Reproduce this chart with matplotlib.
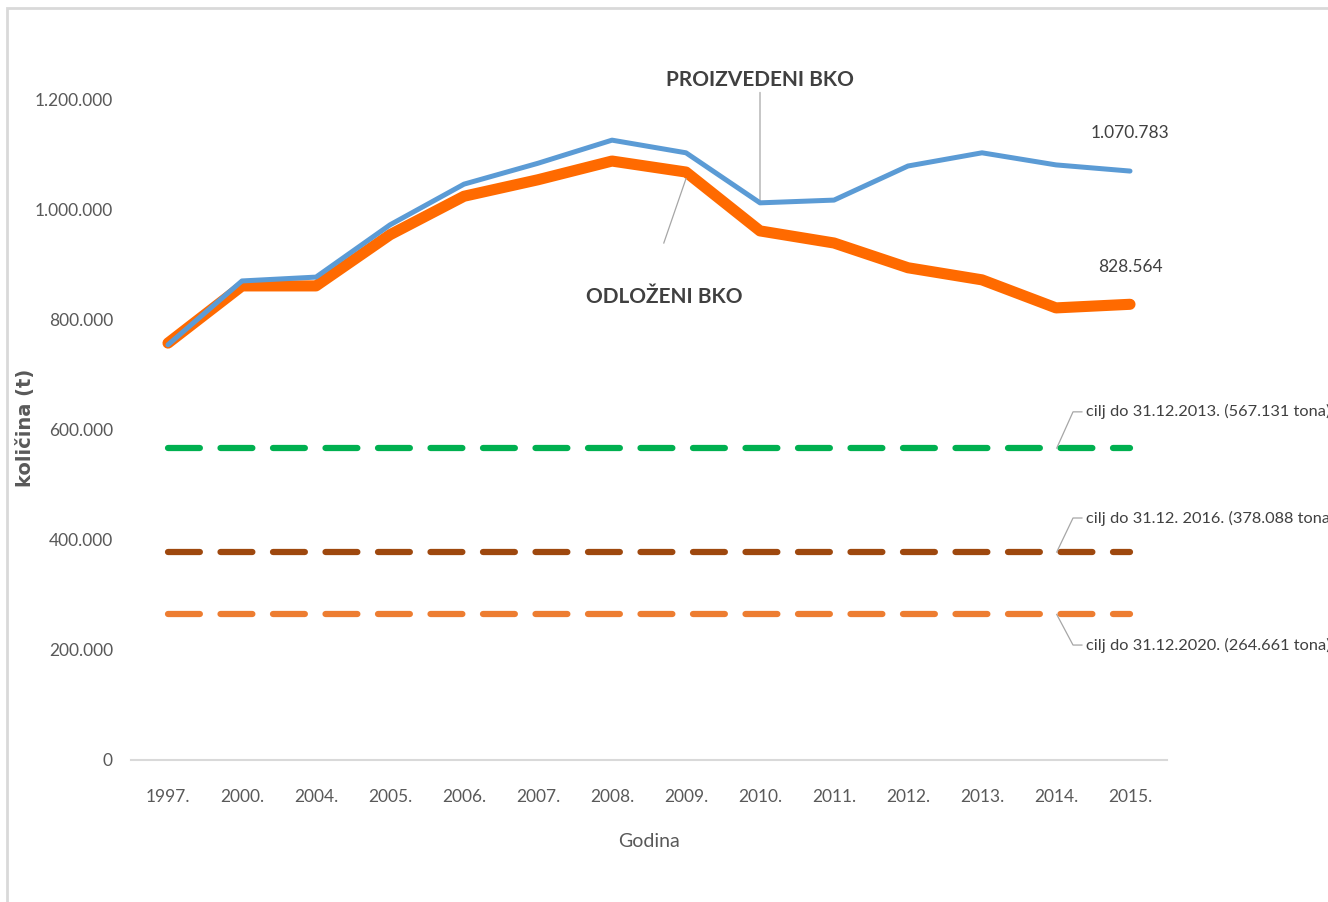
import matplotlib
matplotlib.use("Agg")
import matplotlib.pyplot as plt
from matplotlib.patches import Rectangle

plt.rcParams['font.family'] = ['Lato', 'DejaVu Sans']

years = ["1997.", "2000.", "2004.", "2005.", "2006.", "2007.", "2008.",
         "2009.", "2010.", "2011.", "2012.", "2013.", "2014.", "2015."]
proizvedeni = [755000, 871000, 878000, 973000, 1047000, 1085000, 1127000,
               1104000, 1013000, 1018000, 1080000, 1104000, 1082000, 1070783]
odlozeni = [758000, 862000, 862000, 955000, 1025000, 1055000, 1089000,
            1069000, 962000, 940000, 895000, 873000, 822000, 828564]
ciljevi = [567131, 378088, 264661]
cilj_boje = ["#00B050", "#9E480E", "#ED7D31"]
cilj_tekst = ["cilj do 31.12.2013. (567.131 tona)",
              "cilj do 31.12. 2016. (378.088 tona)",
              "cilj do 31.12.2020. (264.661 tona)"]
yticks = [0, 200000, 400000, 600000, 800000, 1000000, 1200000]

def fmt(v):
    return f"{v:,}".replace(",", ".")

fig = plt.figure(figsize=(13.28, 9.02), dpi=100)
ax = fig.add_axes([131/1328, 1-760/902, (1167-131)/1328, 660/902])

# outer frame
fig.patches.append(Rectangle((7/1328, -0.1), 1.2, 1-8/902+0.1, transform=fig.transFigure,
                             fill=False, edgecolor="#D9D9D9", linewidth=2))

x = list(range(len(years)))
for val, c in zip(ciljevi, cilj_boje):
    ax.plot(x, [val]*len(x), color=c, linewidth=4.5, dashes=(5.1, 3.3),
            dash_capstyle="round", zorder=2)
ax.plot(x, odlozeni, color="#FF6A00", linewidth=8, solid_capstyle="round",
        solid_joinstyle="round", zorder=3)
ax.plot(x, proizvedeni, color="#5B9BD5", linewidth=3.6, solid_capstyle="round",
        solid_joinstyle="round", zorder=4)

ax.set_xlim(-0.5, len(years)-0.5)
ax.set_ylim(0, 1200000)
ax.set_xticks(x)
ax.set_xticklabels(years)
ax.set_yticks(yticks)
ax.set_yticklabels([fmt(v) for v in yticks])
ax.tick_params(axis="both", length=0, labelsize=12.5, labelcolor="#595959")
ax.tick_params(axis="x", pad=21)
ax.tick_params(axis="y", pad=13)
for s in ["top", "right", "left"]:
    ax.spines[s].set_visible(False)
ax.spines["bottom"].set_color("#D9D9D9")
ax.spines["bottom"].set_linewidth(1.5)

ax.set_xlabel("Godina", fontsize=14, color="#595959", labelpad=20)
fig.text(25/1328, 1-428/902, "količina (t)", rotation=90, ha="center", va="center",
         fontsize=14, fontweight="bold", color="#595959", family="DejaVu Sans")

# series labels
lead = dict(arrowstyle="-", color="#A6A6A6", linewidth=0.9, shrinkA=0, shrinkB=0)
ax.annotate("PROIZVEDENI BKO", xy=(8, proizvedeni[8]), xytext=(8, 1237000),
            ha="center", va="center", fontsize=15, fontweight="bold", color="#404040",
            arrowprops=lead, annotation_clip=False)
ax.text(6.7, 842000, "ODLOŽENI BKO", ha="center", va="center", fontsize=15,
        fontweight="bold", color="#404040")
ax.plot([6.7, 7.0], [940000, odlozeni[7] - 12000], color="#A6A6A6", linewidth=0.9, zorder=5)

ax.text(13, 1140000, fmt(proizvedeni[-1]), ha="center", va="center", fontsize=12.5, color="#404040")
ax.text(13, 896000, fmt(odlozeni[-1]), ha="center", va="center", fontsize=12.5, color="#404040")

# target labels with leader lines
text_y = [633000, 440000, 209000]
for val, txt, ty in zip(ciljevi, cilj_tekst, text_y):
    ax.plot([12.01, 12.23, 12.35], [val, ty, ty], color="#A6A6A6", linewidth=0.9,
            clip_on=False, zorder=5)
    ax.text(12.41, ty, txt, ha="left", va="center", fontsize=11.8, color="#404040",
            clip_on=False)

fig.savefig("out.png", dpi=100, facecolor="white")
